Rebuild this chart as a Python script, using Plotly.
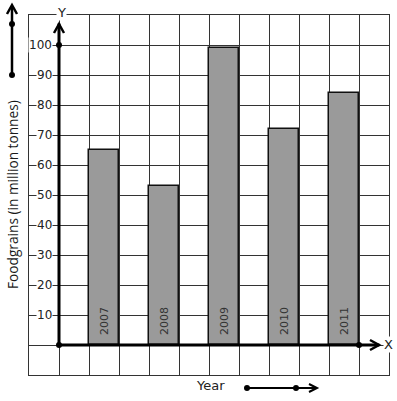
import plotly.graph_objects as go

# ---- data ----
years = ["2007", "2008", "2009", "2010", "2011"]
foodgrains = [65, 53, 99, 72, 84]
ytick_vals = [10, 20, 30, 40, 50, 60, 70, 80, 90, 100]
ytick_text = ["10", "20", "30", "40", "50", "60", "70", "80", "90", "100"]
y_title = "Foodgrains (in million tonnes)"
x_title = "Year"

# ---- layout geometry (window pixels) ----
W, H = 397, 401
L, R, T, B = 29, 389, 15, 375  # plot-area box in pixels


def px(x):
    return (x - L) / (R - L)


def py(y):
    return (B - y) / (B - T)


bar_x = [1.5 + 2 * i for i in range(len(years))]

fig = go.Figure()
fig.add_trace(go.Bar(
    x=bar_x, y=foodgrains, width=1.0,
    marker=dict(color="#9a9a9a", line=dict(color="#111", width=1.5)),
    hoverinfo="skip", showlegend=False,
))

shapes = []
# axis lines
shapes.append(dict(type="line", xref="x", yref="y", x0=0, y0=0, x1=0, y1=107.2,
                   line=dict(color="black", width=3)))
shapes.append(dict(type="line", xref="x", yref="y", x0=0, y0=0, x1=10.68, y1=0,
                   line=dict(color="black", width=3)))
# left decorative arrow and bottom arrow
shapes.append(dict(type="line", xref="paper", yref="paper", x0=px(12), y0=py(75), x1=px(12), y1=py(6),
                   line=dict(color="black", width=2.5)))
shapes.append(dict(type="line", xref="paper", yref="paper", x0=px(247), y0=py(388), x1=px(316), y1=py(388),
                   line=dict(color="black", width=2)))


def chevron(tip, w1, w2, width=2.5):
    p = f"M {px(w1[0])},{py(w1[1])} L {px(tip[0])},{py(tip[1])} L {px(w2[0])},{py(w2[1])}"
    return dict(type="path", xref="paper", yref="paper", path=p,
                line=dict(color="black", width=width))


shapes.append(chevron((59, 24), (54, 33), (64, 33)))
shapes.append(chevron((379, 345), (370, 340), (370, 350)))
shapes.append(chevron((12, 5), (7, 14), (17, 14)))
shapes.append(chevron((317, 388), (309, 384), (309, 392), 2))


def dot(x, y, r=3):
    return dict(type="circle", xref="paper", yref="paper",
                x0=px(x - r), x1=px(x + r), y0=py(y + r), y1=py(y - r),
                fillcolor="black", line=dict(color="black", width=0))


for (dx, dy) in [(59, 45), (59, 345), (359, 345), (12, 24), (12, 75), (247, 388), (296, 388)]:
    shapes.append(dot(dx, dy))

annotations = []
for v, t in zip(ytick_vals, ytick_text):
    annotations.append(dict(x=-0.2, y=v, xref="x", yref="y", text=t, showarrow=False,
                            xanchor="right", yanchor="middle", bgcolor="white", borderpad=0,
                            font=dict(family="DejaVu Sans", size=12, color="#222")))
for xb, yr in zip(bar_x, years):
    annotations.append(dict(x=xb, y=8, xref="x", yref="y", text=yr, showarrow=False,
                            textangle=-90, xanchor="center", yanchor="middle",
                            font=dict(family="DejaVu Sans", size=11, color="#333")))
annotations.append(dict(x=px(61), y=py(12), xref="paper", yref="paper", text="Y", showarrow=False,
                        xanchor="center", yanchor="middle", bgcolor="white", borderpad=0,
                        font=dict(family="DejaVu Sans", size=13, color="#222")))
annotations.append(dict(x=px(388), y=py(344), xref="paper", yref="paper", text="X", showarrow=False,
                        xanchor="center", yanchor="middle", bgcolor="white", borderpad=0,
                        font=dict(family="DejaVu Sans", size=13, color="#222")))
annotations.append(dict(x=px(210), y=py(386), xref="paper", yref="paper", text=x_title, showarrow=False,
                        xanchor="center", yanchor="middle",
                        font=dict(family="DejaVu Sans", size=13, color="#222")))
annotations.append(dict(x=px(12), y=py(195), xref="paper", yref="paper", text=y_title, showarrow=False,
                        textangle=-90, xanchor="center", yanchor="middle",
                        font=dict(family="Open Sans", size=13.7, color="#1a1a1a")))

fig.update_layout(
    width=W, height=H,
    margin=dict(l=L, r=W - R, t=T, b=H - B, pad=0),
    plot_bgcolor="white", paper_bgcolor="white",
    xaxis=dict(range=[-1, 11], tick0=0, dtick=1, showgrid=True, gridcolor="#333", gridwidth=1,
               showticklabels=False, ticks="", zeroline=False,
               showline=True, mirror=True, linecolor="#333", linewidth=1, fixedrange=True),
    yaxis=dict(range=[-10, 110], tick0=0, dtick=10, showgrid=True, gridcolor="#333", gridwidth=1,
               showticklabels=False, ticks="", zeroline=False,
               showline=True, mirror=True, linecolor="#333", linewidth=1, fixedrange=True),
    shapes=shapes, annotations=annotations, bargap=0,
)

fig.write_html("out.html", config={"displayModeBar": False},
               post_script="document.body.style.margin='0';document.body.style.overflow='hidden';")
